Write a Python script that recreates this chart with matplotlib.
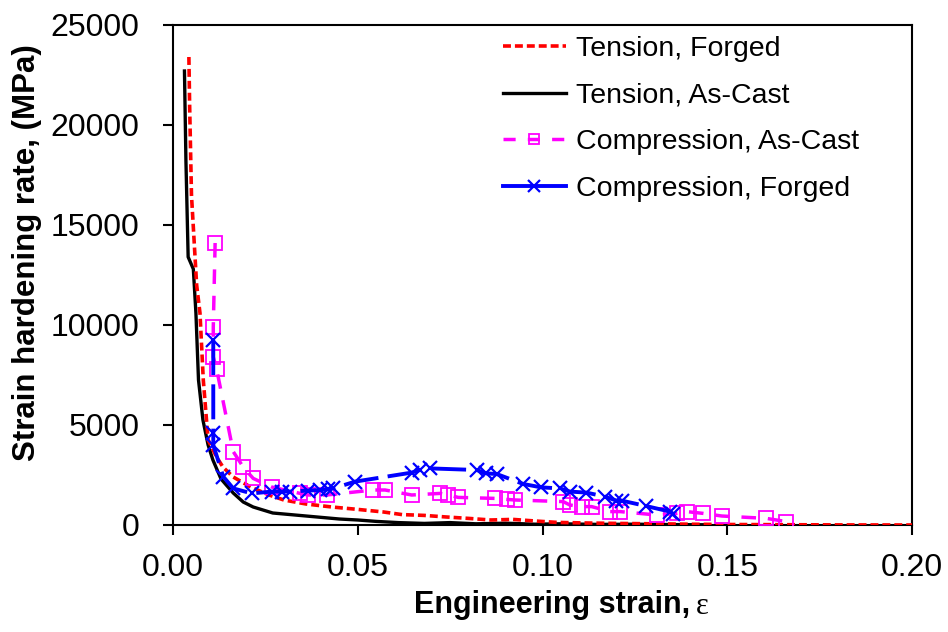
import matplotlib.pyplot as plt
from matplotlib.lines import Line2D

plt.rcParams['font.family'] = ['Liberation Sans', 'DejaVu Sans']

# Tension, Forged
strain_tf = [0.0043, 0.0045, 0.0050, 0.0064, 0.0073, 0.0082, 0.0095, 0.0118, 0.0135, 0.0163,
             0.021, 0.026, 0.030, 0.036, 0.043, 0.050, 0.057, 0.062, 0.068, 0.074,
             0.080, 0.086, 0.092, 0.098, 0.104, 0.112, 0.120, 0.130, 0.140, 0.150,
             0.165, 0.180, 0.200]
rate_tf = [23400, 21000, 16500, 12000, 10600, 7250, 4250, 3400, 2900, 2400,
           1900, 1500, 1250, 1050, 900, 780, 650, 520, 480, 400,
           330, 250, 280, 200, 130, 100, 80, 60, 40, 25,
           15, 5, 0]

# Tension, As-Cast
strain_tc = [0.0031, 0.0035, 0.0041, 0.0048, 0.0055, 0.0062, 0.0069, 0.0081, 0.0095, 0.0108,
             0.013, 0.0163, 0.019, 0.0217, 0.027, 0.033, 0.039, 0.045, 0.050, 0.055,
             0.061, 0.068, 0.075, 0.082, 0.090, 0.098, 0.105, 0.115, 0.125, 0.135, 0.145]
rate_tc = [22700, 18200, 13400, 13100, 12800, 10600, 7250, 5250, 4000, 3250,
           2300, 1600, 1150, 900, 600, 500, 400, 300, 250, 180,
           120, 80, 120, 60, 90, 40, 60, 30, 40, 20, 10]

# Compression, As-Cast
strain_cc = [0.0114, 0.0109, 0.0109, 0.0118, 0.0163, 0.0190, 0.0217, 0.0267, 0.0344, 0.0366,
             0.0416, 0.0542, 0.0574, 0.0646, 0.0723, 0.0745, 0.0772, 0.0871, 0.0903, 0.0926,
             0.1056, 0.1074, 0.1106, 0.1133, 0.1183, 0.1210, 0.1309, 0.1363, 0.1390, 0.1435,
             0.1485, 0.1606, 0.1660]
rate_cc = [14100, 9900, 8400, 7800, 3670, 2900, 2330, 1900, 1580, 1500,
           1500, 1750, 1750, 1500, 1580, 1500, 1380, 1330, 1280, 1250,
           1170, 1000, 920, 920, 670, 670, 500, 580, 670, 580,
           450, 330, 170]

# Compression, Forged
strain_cf = [0.0109, 0.0109, 0.0109, 0.0136, 0.0163, 0.0213, 0.0267, 0.0294, 0.0317, 0.0366,
             0.0398, 0.0420, 0.0434, 0.0493, 0.0646, 0.0668, 0.0696, 0.0822, 0.0848, 0.0876,
             0.0948, 0.0997, 0.1047, 0.1074, 0.1119, 0.1169, 0.1200, 0.1214, 0.1280, 0.1345,
             0.1354]
rate_cf = [9250, 4580, 4000, 2420, 1830, 1580, 1670, 1670, 1670, 1720,
           1750, 1780, 1830, 2170, 2620, 2750, 2830, 2750, 2580, 2550,
           2050, 1880, 1830, 1670, 1620, 1420, 1220, 1220, 950, 670,
           550]

labels = ['Tension, Forged', 'Tension, As-Cast', 'Compression, As-Cast', 'Compression, Forged']
x_ticks = [0.00, 0.05, 0.10, 0.15, 0.20]
y_ticks = [0, 5000, 10000, 15000, 20000, 25000]

fig = plt.figure(figsize=(9.48, 6.32), dpi=100)
ax = fig.add_axes([173 / 948, 1 - 525 / 632, (912 - 173) / 948, 500 / 632])

ax.plot(strain_tc, rate_tc, color='black', lw=2.4, zorder=2)
ax.plot(strain_tf, rate_tf, color='#ff0000', lw=2.6, dashes=(2.2, 1.1), zorder=3)
ax.plot(strain_cc, rate_cc, color='#ff00ff', lw=2.5, dashes=(4.2, 3.4),
        marker='s', ms=10, mfc='none', mec='#ff00ff', mew=1.3, zorder=4)
ax.plot(strain_cf, rate_cf, color='#0000ff', lw=2.8, dashes=(9, 2.4),
        marker='x', ms=10, mec='#0000ff', mew=1.6, zorder=5)

ax.set_xlim(0, 0.20)
ax.set_ylim(0, 25000)
ax.set_xticks(x_ticks)
ax.set_xticklabels([f'{v:.2f}' for v in x_ticks])
ax.set_yticks(y_ticks)
ax.set_yticklabels([str(v) for v in y_ticks])
ax.tick_params(axis='both', direction='out', length=7, width=1.5, labelsize=23)
ax.tick_params(axis='x', pad=13)
ax.tick_params(axis='y', pad=17)
for s in ax.spines.values():
    s.set_linewidth(1.5)

# legend with solid handle for the forged compression line, as in the original
handles = [
    Line2D([], [], color='#ff0000', lw=2.6, dashes=(2.2, 1.1)),
    Line2D([], [], color='black', lw=2.4),
    Line2D([], [], color='#ff00ff', lw=2.5, dashes=(3.5, 3.5), marker='s', ms=7,
           mfc='none', mec='#ff00ff', mew=1.3),
    Line2D([], [], color='#0000ff', lw=2.8, marker='x', ms=8, mec='#0000ff', mew=1.6),
]
ax.legend(handles, labels, loc='upper left', bbox_to_anchor=(503 / 948, 1 - 36 / 632),
          bbox_transform=fig.transFigure, frameon=False, fontsize=20.5, borderpad=0,
          borderaxespad=0, handlelength=2.2, handletextpad=0.36, labelspacing=0.72)

xl = fig.text(552 / 948, 1 - 605 / 632, 'Engineering strain,', ha='center', va='center',
              fontsize=22, fontweight='bold')
ax.annotate('ε', xy=(1, 0.5), xycoords=xl, xytext=(4, -1), textcoords='offset points',
            ha='left', va='center', fontsize=22, family=['Liberation Serif', 'DejaVu Serif'])
fig.text(27 / 948, 1 - 253 / 632, 'Strain hardening rate, (MPa)', ha='center', va='center',
         rotation=90, fontsize=22.5, fontweight='bold')

fig.savefig('out.png', dpi=100)
